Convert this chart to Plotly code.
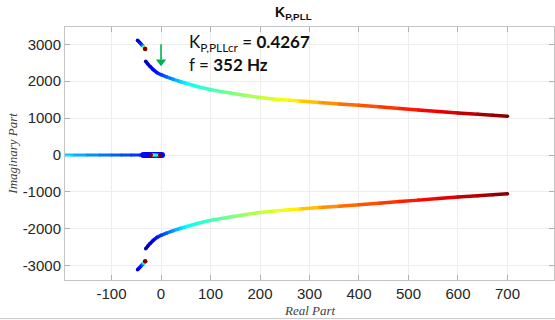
import plotly.graph_objects as go
from plotly.colors import sample_colorscale

# MATLAB-style jet colour map used to shade each locus by its gain
JET = [[0.0, "rgb(0,0,128)"], [0.125, "rgb(0,0,255)"], [0.375, "rgb(0,255,255)"],
       [0.625, "rgb(255,255,0)"], [0.875, "rgb(255,0,0)"], [1.0, "rgb(128,0,0)"]]

# Upper complex branch (dominant pole pair), with normalised gain
upper_re = [-31, -27, -22, -16, -8, 0, 11, 25, 40, 52, 75, 99, 122, 146, 172, 200,
            227, 254, 280, 320, 360, 400, 440, 482, 520, 560, 600, 640, 670, 700]
upper_im = [2540, 2470, 2395, 2315, 2230, 2175, 2117, 2050, 1985, 1937, 1850, 1775,
            1718, 1667, 1610, 1559, 1520, 1490, 1465, 1425, 1385, 1345, 1305, 1262,
            1222, 1178, 1138, 1105, 1078, 1050]
upper_k = [0.06, 0.076, 0.095, 0.117, 0.148, 0.181, 0.223, 0.278, 0.336, 0.378, 0.408,
           0.44, 0.47, 0.501, 0.531, 0.562, 0.593, 0.624, 0.658, 0.711, 0.757, 0.783,
           0.809, 0.837, 0.862, 0.891, 0.922, 0.953, 0.977, 1.0]

# Lower complex branch (conjugate)
lower_re = upper_re
lower_im = [-2540, -2470, -2395, -2315, -2230, -2175, -2117, -2050, -1985, -1937, -1850,
            -1775, -1718, -1667, -1610, -1559, -1520, -1490, -1465, -1425, -1385, -1345,
            -1305, -1262, -1222, -1178, -1138, -1105, -1078, -1050]
lower_k = upper_k

# Second, high-frequency pole pair
hf_re = [-47.5, -45.5, -43, -40.5, -38, -36, -34.5, -33, -32]
hf_im_up = [3110, 3080, 3045, 3010, 2975, 2945, 2920, 2895, 2875]
hf_im_dn = [-3110, -3080, -3045, -3010, -2975, -2945, -2920, -2895, -2875]
hf_k = [0.08, 0.1, 0.13, 0.16, 0.2, 0.3, 0.5, 0.75, 1.0]

# Real-axis pole
axis_re = [-2, -10, -20, -30, -43, -60, -80, -100, -124, -150, -175, -200]
axis_k = [0.12, 0.13, 0.145, 0.155, 0.17, 0.185, 0.205, 0.225, 0.25, 0.28, 0.31, 0.34]

# Cluster of slow real poles near the origin
cluster_re = [-36, 2]
cluster_k = [0.13, 0.13]
slow1_re = [-8, -12, -16, -19, -20.6]
slow1_k = [0.35, 0.38, 0.42, 0.85, 1.0]
slow2_re = [-4.8, -3.6, -2.4]
slow2_k = [0.6, 0.75, 1.0]

x_ticks = [-100, 0, 100, 200, 300, 400, 500, 600, 700]
x_labels = ["-100", "0", "100", "200", "300", "400", "500", "600", "700"]
y_ticks = [-3000, -2000, -1000, 0, 1000, 2000, 3000]
y_labels = ["-3000", "-2000", "-1000", "0", "1000", "2000", "3000"]

kp_cr = "0.4267"
f_cr = "352 Hz"
# green marker arrow pointing at the imaginary-axis crossing
arrow_re = [0, 0]
arrow_im = [3000, 2580]
arrow_head_im = 2525

fig = go.Figure()


def add_locus(re, im, k, width=3.5, end_dot=False):
    colors = sample_colorscale(JET, k)
    for i in range(len(re) - 1):
        c = sample_colorscale(JET, [(k[i] + k[i + 1]) / 2])[0]
        fig.add_trace(go.Scatter(x=[re[i], re[i + 1]], y=[im[i], im[i + 1]], mode="lines",
                                 line=dict(color=c, width=width),
                                 hoverinfo="skip", showlegend=False))
    fig.add_trace(go.Scatter(x=re, y=im, mode="markers",
                             marker=dict(color=colors, size=width, line_width=0),
                             hoverinfo="skip", showlegend=False))
    if end_dot:
        fig.add_trace(go.Scatter(x=[re[-1]], y=[im[-1]], mode="markers",
                                 marker=dict(color=colors[-1], size=width + 1, line_width=0),
                                 hoverinfo="skip", showlegend=False))


add_locus(axis_re, [0] * len(axis_re), axis_k, width=3)
add_locus(cluster_re, [0, 0], cluster_k, width=6)
add_locus(slow1_re, [0] * len(slow1_re), slow1_k, width=3, end_dot=True)
add_locus(slow2_re, [0] * len(slow2_re), slow2_k, width=3, end_dot=True)
add_locus(upper_re, upper_im, upper_k)
add_locus(lower_re, lower_im, lower_k)
add_locus(hf_re, hf_im_up, hf_k, width=3.5, end_dot=True)
add_locus(hf_re, hf_im_dn, hf_k, width=3.5, end_dot=True)

# arrow shaft and head
fig.add_trace(go.Scatter(x=arrow_re, y=arrow_im, mode="lines",
                         line=dict(color="#00b050", width=1.6),
                         hoverinfo="skip", showlegend=False))
fig.add_trace(go.Scatter(x=[arrow_re[0]], y=[arrow_head_im], mode="markers",
                         marker=dict(symbol="triangle-down", size=9, color="#00b050",
                                     line_width=0),
                         hoverinfo="skip", showlegend=False))

tick_font = dict(family="Liberation Sans, Arial", size=15, color="#262626")
axis_common = dict(showgrid=True, gridcolor="#ededed", gridwidth=1, zeroline=False,
                   showline=True, linecolor="#c4c4c4", linewidth=1, mirror="allticks",
                   ticks="inside", ticklen=5, tickcolor="#b0b0b0", tickfont=tick_font)

fig.update_xaxes(range=[-194, 794], tickvals=x_ticks, ticktext=x_labels, **axis_common)
fig.update_yaxes(range=[-3386, 3468], tickvals=y_ticks, ticktext=y_labels, **axis_common)

label_font = dict(family="Lato, Carlito, sans-serif", size=17, color="#111111")
fig.add_annotation(x=52, y=3027, xref="x", yref="y", xanchor="left", yanchor="middle",
                   text=f"K<sub>P,PLLcr</sub> = <b>{kp_cr}</b>", showarrow=False,
                   font=label_font)
fig.add_annotation(x=52, y=2460, xref="x", yref="y", xanchor="left", yanchor="middle",
                   text=f"f = <b>{f_cr}</b>", showarrow=False, font=label_font)

title_font = dict(family="Liberation Sans, Arial", size=14, color="#111111")
fig.add_annotation(x=0.468, y=1.055, xref="paper", yref="paper", xanchor="center",
                   yanchor="middle", text="<b>K<sub>P,PLL</sub></b>", showarrow=False,
                   font=title_font)

axis_title_font = dict(family="Liberation Serif, Times New Roman", size=13, color="#404040")
fig.add_annotation(x=0.5, y=-0.1225, xref="paper", yref="paper", xanchor="center",
                   yanchor="middle", text="<i>Real Part</i>", showarrow=False,
                   font=axis_title_font)
fig.add_annotation(x=-0.108, y=0.5, xref="paper", yref="paper", xanchor="center",
                   yanchor="middle", text="<i>Imaginary Part</i>", textangle=-90,
                   showarrow=False, font=axis_title_font)

# thin frame line along the bottom of the figure
fig.add_shape(type="line", xref="paper", yref="paper", x0=-0.14, x1=1.01,
              y0=-0.1526, y1=-0.1526, line=dict(color="#c8c8c8", width=1))

fig.update_layout(width=555, height=320, margin=dict(l=65, r=1, t=27, b=40),
                  plot_bgcolor="white", paper_bgcolor="white", showlegend=False)

fig.write_html("out.html")
